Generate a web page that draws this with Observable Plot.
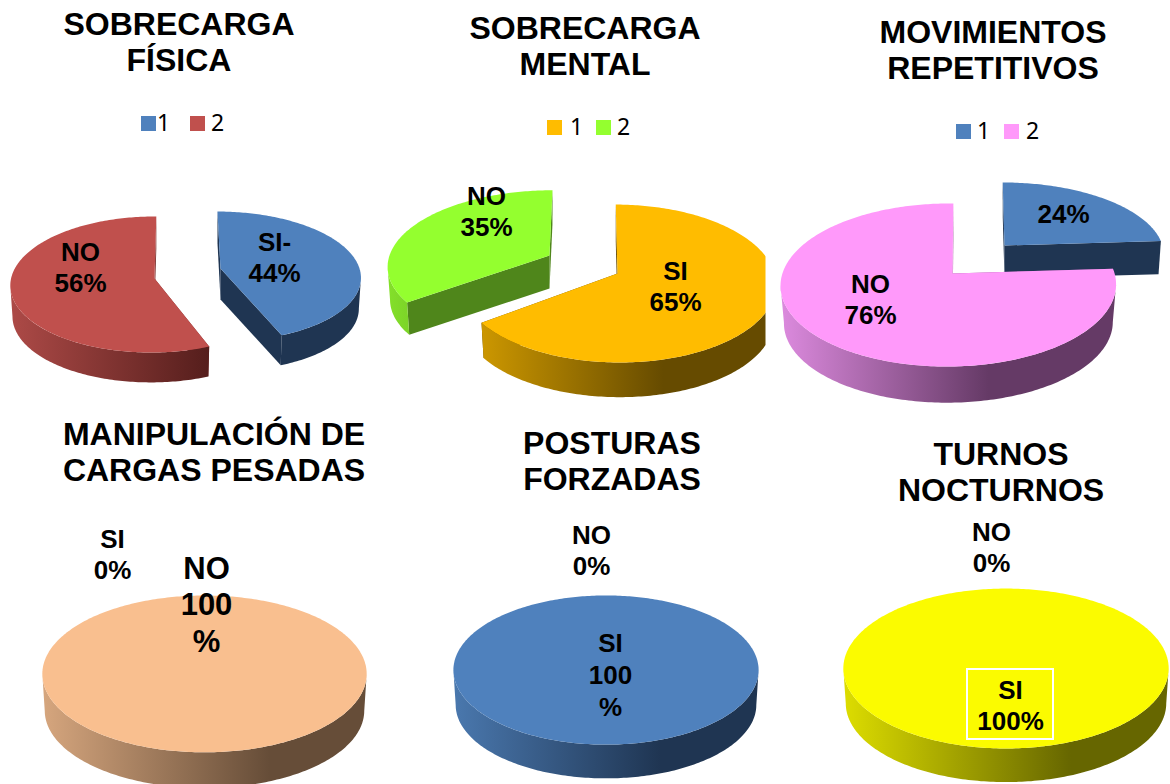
<!DOCTYPE html>
<html>
<head>
<meta charset="utf-8">
<script src="https://cdn.jsdelivr.net/npm/d3@7"></script>
<script src="https://cdn.jsdelivr.net/npm/@observablehq/plot@0.6"></script>
<style>html,body{margin:0;padding:0;background:#fff}</style>
</head>
<body>
<div id="chart"></div>
<script>
// ---- values ----
const chartTitles = ["SOBRECARGA\nFÍSICA","SOBRECARGA\nMENTAL","MOVIMIENTOS\nREPETITIVOS",
                     "MANIPULACIÓN DE\nCARGAS PESADAS","POSTURAS\nFORZADAS","TURNOS\nNOCTURNOS"];
const si = [44, 65, 24, 0, 100, 100];   // series "1"
const no = [56, 35, 76, 100, 0, 0];     // series "2"
const legendLabels = ["1", "2"];
const sliceLabels = ["SI-\n44%","NO\n56%","SI\n65%","NO\n35%","24%","NO\n76%","SI\n0%","NO\n100\n%","NO\n0%","SI\n100\n%","NO\n0%","SI\n100%"];

// ---- layout and style ----
const W = 1170, H = 784, FONT = "'Liberation Sans', Arial, sans-serif";
const titlePos = [[178.5,41],[584.5,45],[992.5,48.5],[213.5,451],[611.5,459.5],[1000.5,470.5]];
// per chart: slice 1, slice 2 -> ax,ay apex; f,g half axes; w,a perspective; t tilt; d depth; style key
const geometry = [
  [{ax:220,ay:268,f:139,g:63.8,w:.12,a:0,t:-3.4,d:31,k:.985,s:"blueDark"},
   {ax:154,ay:278,f:142,g:67.5,w:.088,a:.01,t:2,d:31,k:.985,s:"red"}],
  [{ax:617,ay:273,f:157,g:77.7,w:.127,a:0,t:-2,d:36,k:.985,s:"orange",clip:765},
   {ax:549,ay:255,f:160,g:73.8,w:.131,a:0,t:3.4,d:33,k:.985,s:"green"}],
  [{ax:1004,ay:245,f:158,g:70.6,w:.12,a:0,t:-2,d:33,k:.985,s:"blueDark"},
   {ax:952,ay:273,f:166,g:79.9,w:.141,a:.024,t:1,d:38,k:.98,s:"pink"}],
  [{},{ax:204,ay:664,f:161,g:77.3,w:.12,a:0,t:0,d:37,k:.985,s:"peach"}],
  [{ax:605.5,ay:660.6,f:151.5,g:73.5,w:.12,a:0,t:0,d:35,k:.985,s:"blue"},{}],
  [{ax:1005.5,ay:658.4,f:161.5,g:78.8,w:.12,a:0,t:0,d:35,k:.985,s:"yellow"},{}]
];
const styles = {
  blueDark:{top:"#4f81bd",cut:"#1f3552",stops:[[0,"#1f3552"],[1,"#1f3552"]]},
  blue:{top:"#4f81bd",cut:"#1f3552",stops:[[0,"#4a78ae"],[.68,"#1f3552"],[1,"#1f3552"]]},
  red:{top:"#c0504d",cut:"#7a302e",stops:[[0,"#ad4a47"],[1,"#551e1c"]]},
  orange:{top:"#ffbc00",cut:"#664b00",stops:[[0,"#cc9700"],[.64,"#664b00"],[1,"#664b00"]]},
  green:{top:"#94ff2f",cut:"#4f861b",stops:[[0,"#84e02a"],[1,"#7cd428"]]},
  pink:{top:"#ff99fa",cut:"#9a5a9a",stops:[[0,"#dc8ade"],[.62,"#653a66"],[1,"#653a66"]]},
  peach:{top:"#f9bf8f",cut:"#664d38",stops:[[0,"#d6a67e"],[.7,"#664d38"],[1,"#664d38"]]},
  yellow:{top:"#fbfb00",cut:"#666600",stops:[[0,"#dddd00"],[.7,"#666600"],[1,"#666600"]]}
};
const legendPos = [
  {y:123.5,items:[{x:141,tx:163,c:"#4f81bd"},{x:190,tx:217,c:"#c0504d"}]},
  {y:127.5,items:[{x:547,tx:576,c:"#ffbc00"},{x:596,tx:623,c:"#94ff2f"}]},
  {y:131.5,items:[{x:956,tx:983,c:"#4f81bd"},{x:1004,tx:1032,c:"#ff99fa"}]}
];
const labelPos = [[274,256,26,1.18],[80,266,26,1.18],[675,285,26,1.18],[486,210,26,1.18],[1063,212.5,26,1.18],[870,298.5,26,1.18],
  [112,553,26,1.18],[206,603,31,1.18],[591,549,26,1.18],[610,673.5,26,1.22],[991,546,26,1.18],[1010,704,26,1.18]];
const labelBox = {x1:967,x2:1053,y1:669,y2:739};

// ---- pie geometry from the values ----
function project(g, deg, depth) {
  const th = deg * Math.PI / 180, u = Math.sin(th), v = Math.cos(th);
  const k = depth ? g.k : 1, D = 1 + g.w * v + g.a * u;
  let x = g.ax + k * (g.f * u + g.t * v) / D;
  let y = g.ay + (depth ? g.d : 0) - k * g.g * v / D;
  if (g.clip) x = Math.min(x, g.clip);
  return {x, y: Math.min(y, H)};
}
function arc(g, a0, a1, depth) {
  const n = Math.max(2, Math.ceil(Math.abs(a1 - a0)));
  return d3.range(n + 1).map(i => project(g, a0 + (a1 - a0) * i / n, depth));
}
// The outer wall only shows between the ellipse's rightmost and leftmost points.
function frontRange(g) {
  const free = {...g, clip: null}, degs = d3.range(0, 360);
  return [d3.greatest(degs, a => project(free, a).x), d3.least(degs, a => project(free, a).x)];
}
const shapes = [];
si.forEach((s, c) => {
  [[s, 0], [no[c], s]].forEach(([v, startPct], i) => {
    if (!v) return;
    const g = geometry[c][i], st = styles[g.s], a0 = startPct * 3.6, a1 = (startPct + v) * 3.6, full = v === 100;
    const apexT = {x: g.ax, y: g.ay}, apexB = {x: g.ax, y: g.ay + g.d};
    if (!full) {
      const pA = project(g, a0), pAb = project(g, a0, true), pB = project(g, a1), pBb = project(g, a1, true);
      shapes.push({pts: [apexT, pA, pAb, apexB], fill: st.cut});
      shapes.push({pts: [apexT, pB, pBb, apexB], fill: st.cut});
    }
    const [fR, fL] = frontRange(g), w0 = Math.max(a0, fR), w1 = Math.min(a1, fL);
    if (w1 > w0) shapes.push({pts: [...arc(g, w0, w1), ...arc(g, w1, w0, true)], fill: `url(#wall-${g.s})`});
    shapes.push({pts: full ? arc(g, a0, a1) : [apexT, ...arc(g, a0, a1)], fill: st.top});
  });
});

const defs = () => {
  const d = d3.create("svg:defs");
  Object.entries(styles).forEach(([key, st]) => {
    const lg = d.append("linearGradient").attr("id", "wall-" + key)
      .attr("x1", 0).attr("x2", 1).attr("y1", 0).attr("y2", 0);
    st.stops.forEach(([o, c]) => lg.append("stop").attr("offset", o).attr("stop-color", c));
  });
  return d.node();
};

const titles = chartTitles.map((t, i) => ({t, x: titlePos[i][0], y: titlePos[i][1]}));
const labels = sliceLabels.map((t, i) => ({t, x: labelPos[i][0], y: labelPos[i][1], fs: labelPos[i][2], lh: labelPos[i][3]}));
const legendItems = legendPos.flatMap(l => l.items.map((it, i) => ({...it, y: l.y, label: legendLabels[i]})));

const plot = Plot.plot({
  width: W, height: H, margin: 0,
  x: {domain: [0, W], range: [0, W], axis: null},
  y: {domain: [0, H], range: [0, H], axis: null},
  color: {type: "identity"},
  style: {fontFamily: FONT, background: "#fff", color: "#000"},
  marks: [
    defs,
    ...shapes.map(s => Plot.line([...s.pts, s.pts[0]], {x: "x", y: "y", fill: s.fill, stroke: "none"})),
    Plot.rect([labelBox], {x1: "x1", x2: "x2", y1: "y1", y2: "y2", fill: "none", stroke: "#fff", strokeWidth: 2}),
    Plot.text(titles, {x: "x", y: "y", text: "t", fontSize: 32, fontWeight: "bold", lineHeight: 1.13, fill: "#000", lineAnchor: "middle"}),
    ...d3.groups(labels, d => d.fs + "/" + d.lh).map(([, rows]) =>
      Plot.text(rows, {x: "x", y: "y", text: "t", fontSize: rows[0].fs, fontWeight: "bold", lineHeight: rows[0].lh, fill: "#000", lineAnchor: "middle"})),
    Plot.rect(legendItems, {x1: "x", x2: d => d.x + 15, y1: d => d.y - 7.5, y2: d => d.y + 7.5, fill: "c"}),
    Plot.text(legendItems, {x: "tx", y: "y", text: "label", fontSize: 23, fontFamily: "'Noto Sans', sans-serif", fill: "#000", lineAnchor: "middle"})
  ]
});
document.getElementById("chart").appendChild(plot);
</script>
</body>
</html>
